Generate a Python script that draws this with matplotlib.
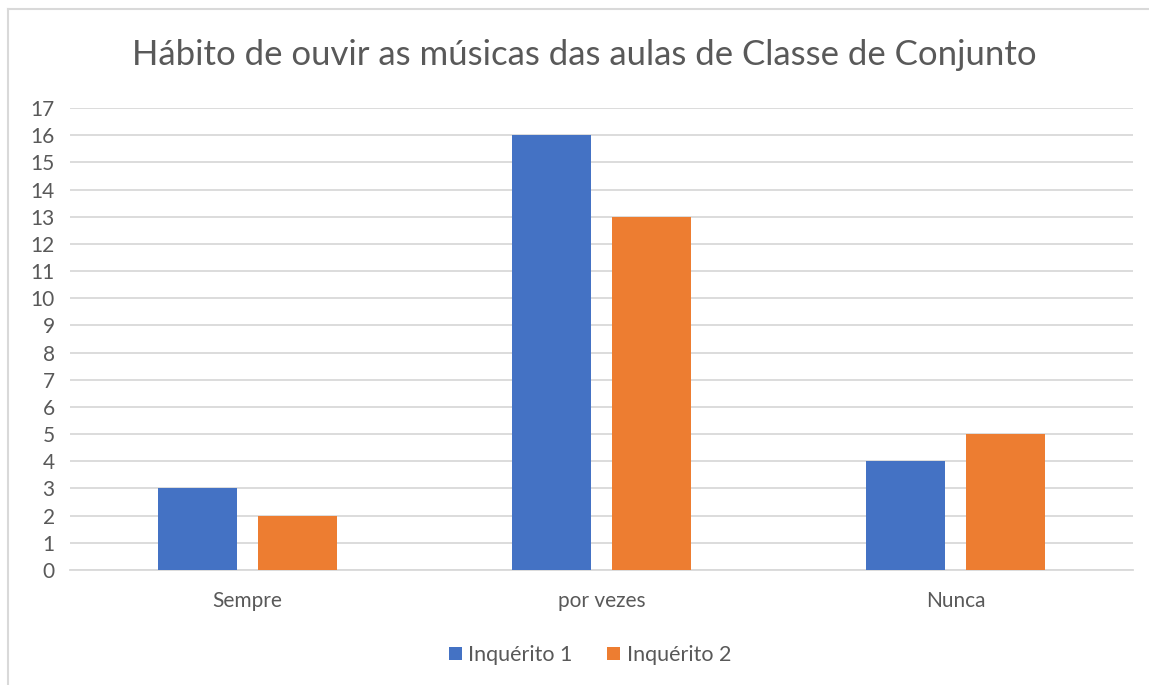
import matplotlib
matplotlib.use("Agg")
import matplotlib.pyplot as plt
import numpy as np
from matplotlib.lines import Line2D

categories = ["Sempre", "por vezes", "Nunca"]
inq1 = [3, 16, 4]
inq2 = [2, 13, 5]
series_names = ["Inquérito 1", "Inquérito 2"]
yticks = list(range(0, 18))

plt.rcParams['font.family'] = ['Lato', 'DejaVu Sans']
txt = '#595959'
grid = '#d9d9d9'

fig = plt.figure(figsize=(11.49, 6.85), dpi=100)
ax = fig.add_axes([70/1149, 1-570/685, (1133-70)/1149, (570-108)/685])

x = np.arange(len(categories))
w = 0.223
off = 0.141
ax.bar(x - off, inq1, w, color='#4472c4', label=series_names[0], zorder=3)
ax.bar(x + off, inq2, w, color='#ed7d31', label=series_names[1], zorder=3)

ax.set_xlim(-0.5, 2.5)
ax.set_ylim(0, 17)
ax.set_yticks(yticks)
ax.yaxis.grid(True, color=grid, linewidth=1.3, zorder=0)
ax.set_axisbelow(True)
for s in ['top', 'right', 'left']:
    ax.spines[s].set_visible(False)
ax.spines['bottom'].set_color(grid)
ax.spines['bottom'].set_linewidth(1.3)
ax.tick_params(axis='both', length=0, labelsize=15, colors=txt)
ax.tick_params(axis='y', pad=11)
ax.tick_params(axis='x', pad=15)
ax.set_xticks(x)
ax.set_xticklabels(categories)

fig.text(584/1149, 1-55/685, "Hábito de ouvir as músicas das aulas de Classe de Conjunto",
         ha='center', va='center', fontsize=25, color=txt)

leg = fig.legend(loc='center', bbox_to_anchor=(590/1149, 1-655/685), ncol=2, frameon=False,
                 fontsize=15.5, handlelength=0.6, handleheight=0.6, handletextpad=0.3,
                 columnspacing=1.6, labelcolor=txt)

# outer border (left and top visible)
fig.add_artist(Line2D([8/1149, 8/1149], [0, 1-9/685], transform=fig.transFigure, color=grid, lw=1.5))
fig.add_artist(Line2D([8/1149, 1], [1-9/685, 1-9/685], transform=fig.transFigure, color=grid, lw=1.5))

fig.savefig("out.png", dpi=100)
